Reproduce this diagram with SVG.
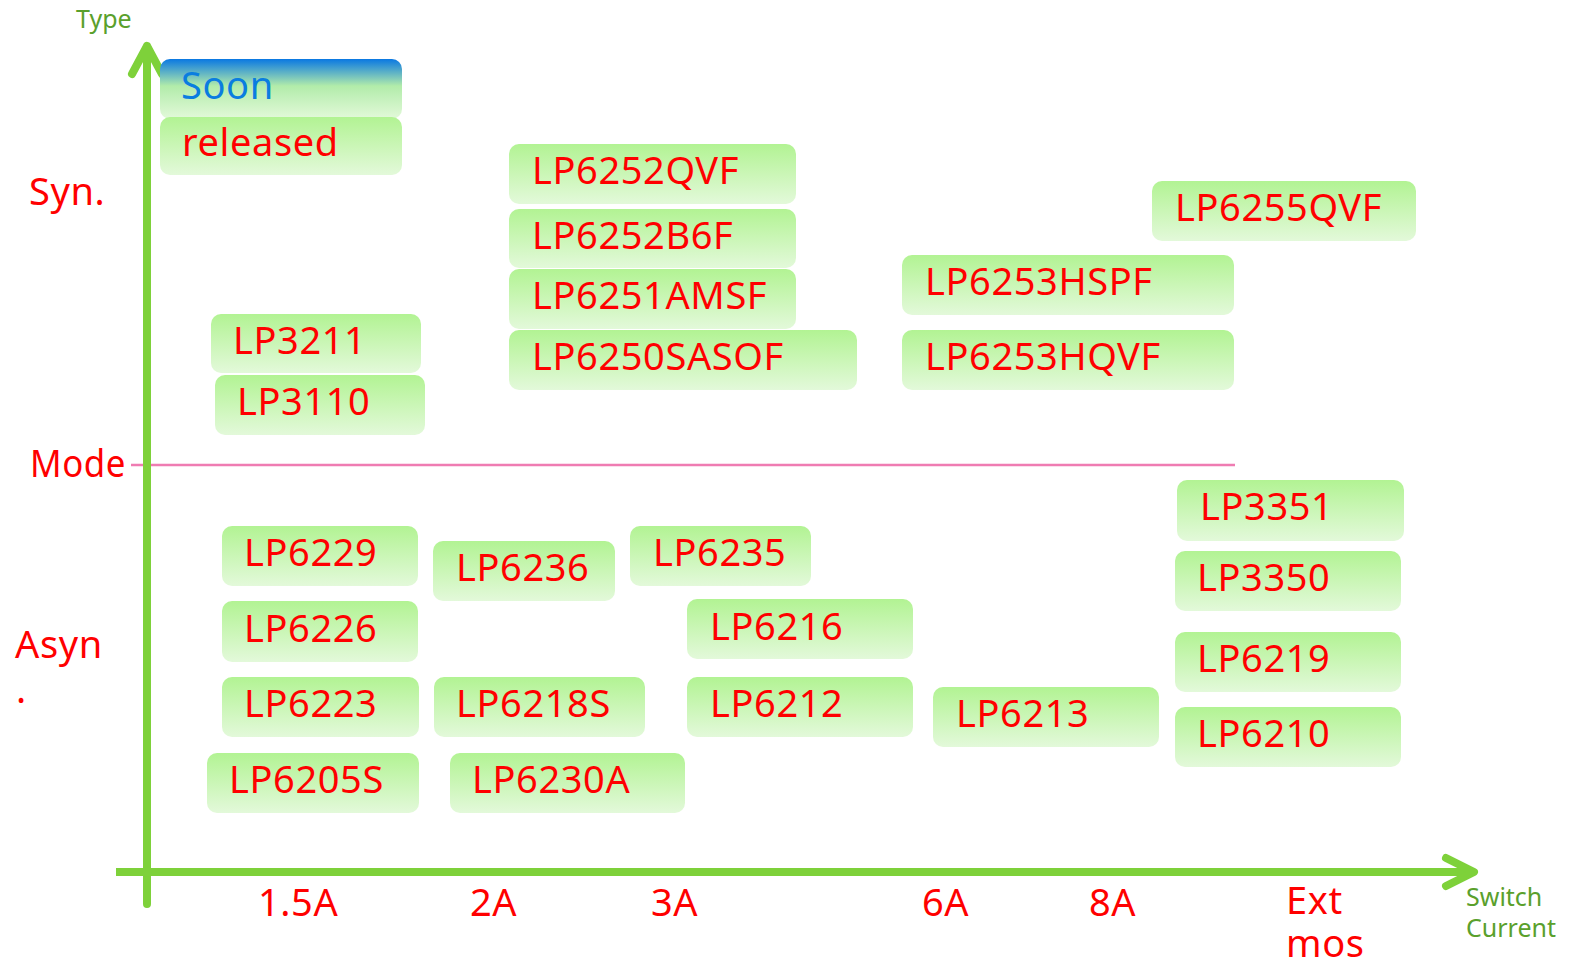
<svg xmlns="http://www.w3.org/2000/svg" width="1581" height="964" viewBox="0 0 1581 964">
<defs>
<linearGradient id="g" x1="0" y1="0" x2="0" y2="1">
<stop offset="0" stop-color="#b2f393"/>
<stop offset="1" stop-color="#e3f9da"/>
</linearGradient>
<linearGradient id="gs" x1="0" y1="0" x2="0" y2="1">
<stop offset="0" stop-color="#0a78e2"/>
<stop offset="0.45" stop-color="#b2ecaa"/>
<stop offset="1" stop-color="#e3f9da"/>
</linearGradient>
<style>
.b{fill:url(#g);}
.t{font-family:"Noto Sans","DejaVu Sans",sans-serif;font-size:38px;fill:#ff0000;letter-spacing:0.6px;}
.ax{font-family:"Noto Sans","DejaVu Sans",sans-serif;font-size:25px;fill:#5aa02c;}
.axis{stroke:#7ed13a;stroke-width:8;fill:none;stroke-linecap:round;stroke-linejoin:round;}
</style>
</defs>
<rect width="1581" height="964" fill="#ffffff"/>
<g id="connectors">
<line x1="131" y1="465" x2="1235" y2="465" stroke="#ef7cb2" stroke-width="2.5"/>
<path class="axis" d="M147 904 V46 M132 74 L147 46 L162 74"/>
<path class="axis" d="M116 872 H1474" style="stroke-linecap:butt"/>
<path class="axis" d="M1446 858 L1474 872 L1446 886"/>
</g>
<g id="axis-labels">
<text class="ax" x="76" y="28">Type</text>
<text class="ax" x="1466" y="906">Switch</text>
<text class="ax" x="1466" y="937">Current</text>
<text class="t" x="29" y="205">Syn.</text>
<text class="t" x="30" y="477" textLength="96" lengthAdjust="spacingAndGlyphs">Mode</text>
<text class="t" x="15" y="658">Asyn</text>
<text class="t" x="16" y="703">.</text>
<text class="t" x="258" y="916">1.5A</text>
<text class="t" x="470" y="916">2A</text>
<text class="t" x="651" y="916">3A</text>
<text class="t" x="922" y="916">6A</text>
<text class="t" x="1089" y="916">8A</text>
<text class="t" x="1286" y="914">Ext</text>
<text class="t" x="1286" y="957">mos</text>
</g>
<g id="soon"><rect x="160" y="59" width="242" height="60" rx="10" fill="url(#gs)"/><text class="t" x="181" y="99" style="fill:#0a7de0">Soon</text></g>
<g id="released"><rect class="b" x="160" y="117" width="242" height="58" rx="10"/><text class="t" x="182" y="156">released</text></g>
<g id="LP6252QVF"><rect class="b" x="509" y="144" width="287" height="60" rx="10"/><text class="t" x="532" y="184">LP6252QVF</text></g>
<g id="LP6252B6F"><rect class="b" x="509" y="209" width="287" height="59" rx="10"/><text class="t" x="532" y="249">LP6252B6F</text></g>
<g id="LP6251AMSF"><rect class="b" x="509" y="269" width="287" height="60" rx="10"/><text class="t" x="532" y="309">LP6251AMSF</text></g>
<g id="LP6250SASOF"><rect class="b" x="509" y="330" width="348" height="60" rx="10"/><text class="t" x="532" y="370">LP6250SASOF</text></g>
<g id="LP3211"><rect class="b" x="211" y="314" width="210" height="59" rx="10"/><text class="t" x="233" y="354">LP3211</text></g>
<g id="LP3110"><rect class="b" x="215" y="375" width="210" height="60" rx="10"/><text class="t" x="237" y="415">LP3110</text></g>
<g id="LP6255QVF"><rect class="b" x="1152" y="181" width="264" height="60" rx="10"/><text class="t" x="1175" y="221">LP6255QVF</text></g>
<g id="LP6253HSPF"><rect class="b" x="902" y="255" width="332" height="60" rx="10"/><text class="t" x="925" y="295">LP6253HSPF</text></g>
<g id="LP6253HQVF"><rect class="b" x="902" y="330" width="332" height="60" rx="10"/><text class="t" x="925" y="370">LP6253HQVF</text></g>
<g id="LP6229"><rect class="b" x="222" y="526" width="196" height="60" rx="10"/><text class="t" x="244" y="566">LP6229</text></g>
<g id="LP6226"><rect class="b" x="222" y="601" width="196" height="61" rx="10"/><text class="t" x="244" y="642">LP6226</text></g>
<g id="LP6223"><rect class="b" x="222" y="677" width="197" height="60" rx="10"/><text class="t" x="244" y="717">LP6223</text></g>
<g id="LP6205S"><rect class="b" x="207" y="753" width="212" height="60" rx="10"/><text class="t" x="229" y="793">LP6205S</text></g>
<g id="LP6236"><rect class="b" x="433" y="541" width="182" height="60" rx="10"/><text class="t" x="456" y="581">LP6236</text></g>
<g id="LP6218S"><rect class="b" x="434" y="677" width="211" height="60" rx="10"/><text class="t" x="456" y="717">LP6218S</text></g>
<g id="LP6230A"><rect class="b" x="450" y="753" width="235" height="60" rx="10"/><text class="t" x="472" y="793">LP6230A</text></g>
<g id="LP6235"><rect class="b" x="630" y="526" width="181" height="60" rx="10"/><text class="t" x="653" y="566">LP6235</text></g>
<g id="LP6216"><rect class="b" x="687" y="599" width="226" height="60" rx="10"/><text class="t" x="710" y="640">LP6216</text></g>
<g id="LP6212"><rect class="b" x="687" y="677" width="226" height="60" rx="10"/><text class="t" x="710" y="717">LP6212</text></g>
<g id="LP6213"><rect class="b" x="933" y="687" width="226" height="60" rx="10"/><text class="t" x="956" y="727">LP6213</text></g>
<g id="LP3351"><rect class="b" x="1177" y="480" width="227" height="61" rx="10"/><text class="t" x="1200" y="520">LP3351</text></g>
<g id="LP3350"><rect class="b" x="1175" y="551" width="226" height="60" rx="10"/><text class="t" x="1197" y="591">LP3350</text></g>
<g id="LP6219"><rect class="b" x="1175" y="632" width="226" height="60" rx="10"/><text class="t" x="1197" y="672">LP6219</text></g>
<g id="LP6210"><rect class="b" x="1175" y="707" width="226" height="60" rx="10"/><text class="t" x="1197" y="747">LP6210</text></g>
</svg>
